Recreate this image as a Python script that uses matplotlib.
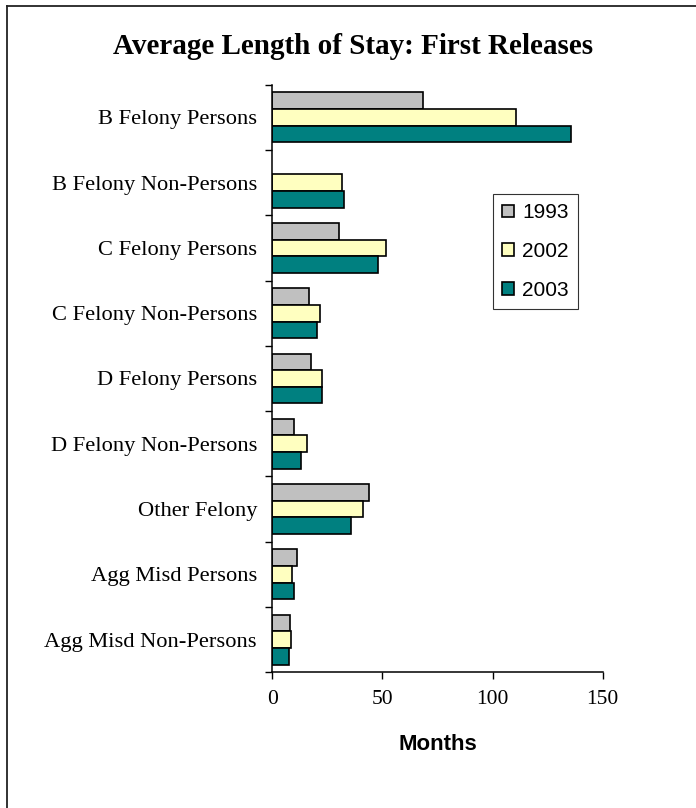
import numpy as np
import matplotlib
matplotlib.use("Agg")
from matplotlib import pyplot as plt
from matplotlib.lines import Line2D

categories = ["B Felony Persons", "B Felony Non-Persons", "C Felony Persons",
              "C Felony Non-Persons", "D Felony Persons", "D Felony Non-Persons",
              "Other Felony", "Agg Misd Persons", "Agg Misd Non-Persons"]
years = ["1993", "2002", "2003"]
stay_1993 = [68.2, np.nan, 30.1, 16.7, 17.4, 10.0, 43.7, 11.1, 8.2]
stay_2002 = [110.7, 31.8, 51.7, 21.8, 22.7, 15.6, 41.0, 8.9, 8.3]
stay_2003 = [135.4, 32.7, 48.1, 20.1, 22.7, 12.9, 35.6, 10.0, 7.6]
colors = ["#C0C0C0", "#FFFFC0", "#008080"]
xticks = [0, 50, 100, 150]

fig = plt.figure(figsize=(6.96, 8.08), dpi=100)
ax = fig.add_axes([272.3/696, 1 - 672.3/808, 330.4/696, 587.6/808])

y = np.arange(len(categories))
h = 0.255
for k, vals in enumerate([stay_1993, stay_2002, stay_2003]):
    ax.barh(y + (k - 1) * h, vals, height=h, color=colors[k],
            edgecolor="black", linewidth=1.2, label=years[k])

ax.set_xlim(0, 150)
ax.set_ylim(len(categories) - 0.5, -0.5)
ax.set_xticks(xticks)
ax.set_xticklabels([str(t) for t in xticks], family="Liberation Serif", fontsize=15.5)
ax.set_yticks(y)
ax.set_yticklabels(categories, family="Liberation Serif", fontsize=16.2)
ax.set_yticks(np.arange(len(categories) + 1) - 0.5, minor=True)
ax.tick_params(axis="y", which="major", length=0, pad=11)
ax.tick_params(axis="y", which="minor", length=5, width=1, direction="out")
ax.tick_params(axis="x", length=5, width=1, direction="out", pad=8)
for s in ["top", "right"]:
    ax.spines[s].set_visible(False)
for s in ["left", "bottom"]:
    ax.spines[s].set_linewidth(1.1)

leg = ax.legend(loc="upper left", bbox_to_anchor=((492.7 - 272.3) / 330.4, 1 - (194 - 84.7) / 587.6),
                prop={"family": "Liberation Sans", "size": 15}, frameon=True, fancybox=False,
                edgecolor="black", handlelength=0.58, handleheight=0.58, handletextpad=0.4,
                labelspacing=0.95, borderpad=0.45, borderaxespad=0)
leg.get_frame().set_linewidth(0.8)
for p in leg.get_patches():
    p.set_linewidth(1.2)

fig.text(353 / 696, 1 - 47 / 808, "Average Length of Stay: First Releases",
         family="Liberation Serif", weight="bold", fontsize=21, ha="center", va="center")
fig.text(437.5 / 696, 1 - 745 / 808, "Months", family="Liberation Sans",
         weight="bold", fontsize=16, ha="center", va="center")

# frame lines along the top and left edge
fig.add_artist(Line2D([7 / 696, 1], [1 - 6 / 808, 1 - 6 / 808], color="#222222", lw=1.3))
fig.add_artist(Line2D([7 / 696, 7 / 696], [0, 1 - 6 / 808], color="#222222", lw=1.3))

fig.savefig("out.png", dpi=100)
